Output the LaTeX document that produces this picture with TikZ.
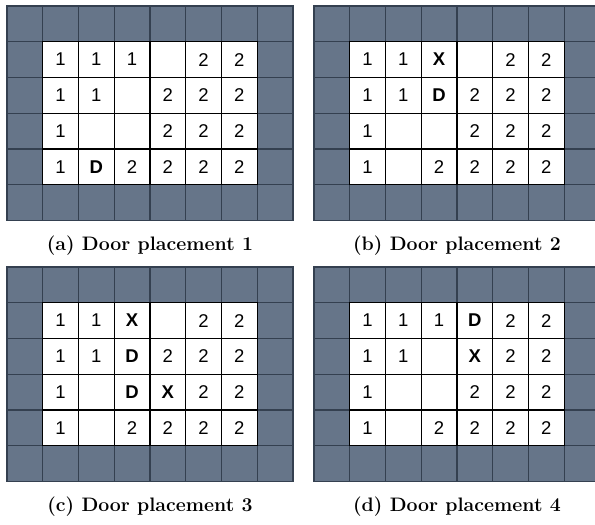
\documentclass[tikz,border=0pt]{standalone}
\usepackage{fontspec}
\newfontfamily\cellfont{Liberation Sans}
\definecolor{wallfill}{RGB}{102,117,137}
\definecolor{wallline}{RGB}{52,64,80}
\tikzset{
  wallcell/.style={draw=wallline, fill=wallfill, line width=1.1pt, minimum size=35.75pt, inner sep=0pt, outer sep=0pt},
  roomcell/.style={draw=black, fill=white, line width=1.1pt, minimum size=35.75pt, inner sep=0pt, outer sep=0pt, font=\cellfont\fontsize{18.5}{20}\selectfont},
  caption/.style={font=\fontsize{19.5}{22}\selectfont\bfseries, inner sep=0pt}
}
\newcommand\roomgrid[5]{%
  \foreach \cc in {0,...,7}{%
    \foreach \rr in {0,...,5}{%
      \node[wallcell] (#1w\cc\rr) at ({#2+(\cc+0.5)*35.75},{#3+(\rr+0.5)*35.75}) {};
    }%
  }%
  \foreach \v [count=\i from 0] in {#4}{%
    \pgfmathtruncatemacro\ccol{mod(\i,6)+1}%
    \pgfmathtruncatemacro\rrow{int(\i/6)+1}%
    \node[roomcell] (#1c\ccol\rrow) at ({#2+(\ccol+0.5)*35.75},{#3+(\rrow+0.5)*35.75}) {\v};
  }%
  \node[caption] (#1cap) at ({#2+143},{#3+239.5}) {#5};
}
\begin{document}
\begin{tikzpicture}[x=1pt,y=-1pt]
\useasboundingbox (0,0) rectangle (595,525);
\roomgrid{a}{7}{6}{1,1,1,{},2,2,1,1,{},2,2,2,1,{},{},2,2,2,1,\textbf{D},2,2,2,2}{(a) Door placement 1}
\roomgrid{b}{314}{6}{1,1,\textbf{X},{},2,2,1,1,\textbf{D},2,2,2,1,{},{},2,2,2,1,{},2,2,2,2}{(b) Door placement 2}
\roomgrid{c}{7}{267}{1,1,\textbf{X},{},2,2,1,1,\textbf{D},2,2,2,1,{},\textbf{D},\textbf{X},2,2,1,{},2,2,2,2}{(c) Door placement 3}
\roomgrid{d}{314}{267}{1,1,1,\textbf{D},2,2,1,1,{},\textbf{X},2,2,1,{},{},2,2,2,1,{},2,2,2,2}{(d) Door placement 4}
\end{tikzpicture}
\end{document}
